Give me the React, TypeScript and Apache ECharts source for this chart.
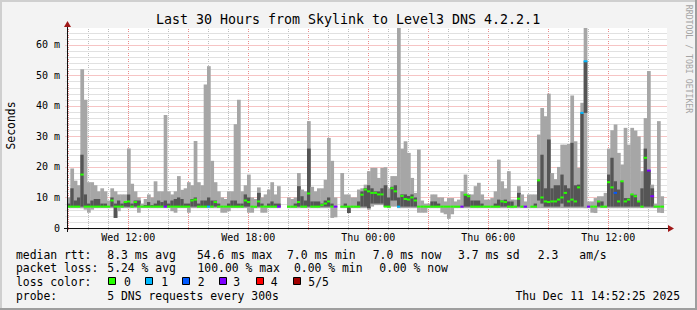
import React, { useEffect, useRef } from 'react';
import * as echarts from 'echarts';

// time axis: hours since Wed 00:00, 30 hours ending Thu 14:56
const START_HOUR = 8.935;
const STEP_HOURS = 1 / 6; // 10-minute buckets
const SPAN_HOURS = 30;

const xLabelHours = [12, 18, 24, 30, 36];
const xLabelTexts = ['Wed 12:00', 'Wed 18:00', 'Thu 00:00', 'Thu 06:00', 'Thu 12:00'];
const yLabelValues = [0, 10, 20, 30, 40, 50, 60];
const Y_MAX = 65.5;

// smoke: highest ping per bucket (ms)
const hi = [
  10, 19.5, 15.5, 14, 52, 42, 15, 15, 14, 12,
  13, 12, 9, 13, 12, 11, 11, 11, 26, 14.5,
  12, 10, 8, 9.5, 11, 10, 15.3, 12, 12, 37,
  12, 11, 12, 17, 12.5, 13, 15, 14, 28.5, 15,
  14, 47, 53, 22, 15, 12, 10, 9.5, 12, 12,
  34, 42, 12, 14, 17.5, 10, 9.5, 13.3, 10, 11,
  12.6, 15, 11, 13.7, null, null, 10, 9.5, 10, 18,
  12.6, 12, 35, 13.5, 12, 13, 13, 15.8, 29.5, 22,
  10, null, 18, 11, 11, 10, 10, 12.6, 13, 14.2,
  18.6, 19.7, 19.7, 16.4, 19.7, 19.9, 13, 17, 17, 66,
  26, 28.4, 24.6, 16.4, 11.5, 25.7, 9, 8, 8, 11,
  11, 10, 10, 8.7, 9.8, 9.8, 8.7, 9.3, 12, 17.5,
  11, 11, 13.7, 14.8, 11, 9.3, 9.3, 9.8, 12, 22.4,
  15.3, 13, 18.6, 9.3, 9.3, 13.7, 11, 8.7, 11, 11,
  11, 30.6, 39.3, 36.6, 44, 18, 16, 20, 27.3, 27.3,
  27.5, 43.4, 28.4, 19.7, 41, 66, 8.7, 8.7, 9.8, 10.4,
  10.4, 11.5, 26, 32, 33.9, 24.6, 20.8, 32.8, 27.3, 32.8,
  31.9, 30, 18.6, 36, 51.4, 14.2, 8, 35, 10.4, null,
];

// smoke: lowest ping per bucket (ms)
const lo = [
  6.5, 6.5, 6.5, 6.5, 6.5, 6, 5, 6, 6.5, 6.5,
  6.5, 6.5, 6.5, 6.5, 3.3, 5.5, 6.5, 6.5, 6.5, 6.5,
  6.5, 5, 6.5, 6.5, 6.5, 6.5, 6.5, 6.5, 6.5, 6.5,
  6.5, 5.5, 5, 6.5, 6.5, 6.5, 5, 6.5, 6.5, 6.5,
  6.5, 6.5, 6.5, 6.5, 6.5, 6.5, 5, 5, 5.5, 6.5,
  6.5, 6.5, 6.5, 6.5, 5, 5, 6.5, 6.5, 5, 5,
  6.5, 6.5, 6.5, 6.5, null, null, 6.5, 6.5, 6.5, 6.5,
  6.5, 6.5, 6.5, 6.5, 6.5, 6.5, 6.5, 6.5, 6.5, 3.3,
  3.5, null, 6.5, 6.5, 4.9, 6.5, 6.5, 6.5, 6.5, 6.5,
  6, 7, 7.5, 7.5, 7.5, 7, 6.5, 7, 7, 6.5,
  6.5, 6.5, 6.5, 6.5, 6.5, 5, 5, 5, 6.5, 6.5,
  6.5, 6.5, 5, 4.5, 3, 4.5, 6.5, 6.5, 6.5, 6.5,
  6.5, 6.5, 6.5, 6.5, 6.5, 6.5, 6.5, 6.5, 6.5, 6.5,
  6.5, 6.5, 6.5, 6.5, 6.5, 6.5, 6.5, 6.5, 6.5, 6.5,
  6.5, 6.5, 6.5, 6.5, 6.5, 6.5, 6.5, 6.5, 6.5, 6.5,
  6.5, 6.5, 6.5, 6.5, 6.5, 6.5, 6.5, 5, 4.9, 6.5,
  6.5, 6.5, 6.5, 6.5, 6.5, 6.5, 6.5, 6.5, 6.5, 6.5,
  6.5, 6.5, 6.5, 6.5, 6.5, 6.5, 6.5, 5, 4.9, null,
];

// dark smoke band top (ms)
const darkHi = [
  8, 13, 9, 10, 24, 11, 8, 9, 9.5, 9.5,
  8, 8, null, 10, 8, 9, 8, 8.5, 11, 8,
  9, 9, null, 7.5, 8.5, 7.5, 8, 9, 8.5, 9,
  8, 9, 9.5, 10, 9.5, 8, 8, 9.5, 10, 8,
  9, 9, 10, 9, 9, 8, null, null, 8, 9,
  9, 8, 8, 11, 10, null, null, 11.5, 8, null,
  8, 8.7, 8, 8, null, null, null, null, 8, 13.7,
  10.4, 9, 26, 8.7, 8.7, 8.7, 8, 9, 10, 8,
  null, null, null, 8, 7, null, null, 8.7, 12, 13,
  14, 13, 12, 12, 13, 14, 10, 13.5, 14, 10,
  11, 11, 10.5, 11, 10, null, null, null, null, 8.7,
  8.7, 8, null, null, null, null, null, null, null, 11,
  10.9, 9, 9, 9, 8, null, null, null, 8, 9.3,
  9, 9.3, 8.7, 8.7, null, 11.5, null, null, null, null,
  8, 15.8, 24, 13, 29, 13, 14, 14, 17.5, 14,
  13, 27.9, 14, 14.2, 37.7, 54.6, null, null, null, 8.7,
  8.7, null, 17.5, 23, 15.3, 12.6, 15.3, 9.8, 9.8, 11,
  10.9, 8.7, 13, 26, 18.8, 13, null, null, null, null,
];

// dark smoke band bottom (ms)
const darkLo = [
  7, 7, 7, 7, 7, 7, 7, 7, 7, 7,
  7, 7, 7, 7, 3.3, 7, 7, 7, 7, 7,
  7, 7, 7, 7, 7, 7, 7, 7, 7, 7,
  7, 7, 7, 7, 7, 7, 7, 7, 7, 7,
  7, 7, 7, 7, 7, 7, 7, 7, 7, 7,
  7, 7, 7, 7, 7, 7, 7, 7, 7, 7,
  7, 7, 7, 7, 7, 7, 7, 7, 7, 7,
  7, 7, 7, 7, 7, 7, 7, 7, 7, 7,
  7, 7, 7, 7, 4.9, 7, 7, 7, 7, 7,
  6.5, 8, 8, 8, 8, 7, 7, 9, 9, 7,
  7, 7, 7, 7, 7, 7, 7, 7, 7, 7,
  7, 7, 7, 7, 7, 7, 7, 7, 7, 7,
  7, 7, 7, 7, 7, 7, 7, 7, 7, 7,
  7, 7, 7, 7, 7, 7, 7, 7, 7, 7,
  7, 9, 8, 7, 7, 7, 7, 7, 8, 7,
  7, 7, 7, 7, 7, 37.7, 7, 7, 7, 7,
  7, 7, 7, 7, 7, 7, 7, 7, 7, 7,
  7, 7, 7, 7, 7, 7, 7, 7, 7, 7,
];

// median rtt (ms)
const median = [
  7, 7, 7, 7, 17.5, 7, 7, 7, 7, 7,
  7, 7, 7, 9, 7, 7, 7, 8.5, 8.7, 7,
  8.5, 7, 7, 7, 7, 7, 7, 7, 7, 7,
  7, 7, 7, 7, 7, 7, 7, 9, 9.3, 7,
  7, 7, 7, 7, 8.5, 7, 7, 7, 7, 7,
  7, 7, 7, 9, 8.5, 7, 7, 8.7, 7, 7,
  7, 7, 7, 7, null, null, 7, 7, 7, 8.5,
  7, 7, 11.3, 7, 7, 7, 7.5, 8, 8.7, 7,
  7, null, 7, 7, 7, 7, 7, 7, 10.9, 12.6,
  12, 11.5, 11.5, 11, 11, 7, 7, 13, 12, 7,
  10.5, 9.5, 9.3, 10, 9, 7, 7, 7, 7, 7,
  7, 7, 7, 7, 7, 7, 7, 7, 7, 10.9,
  10.4, 7, 7, 7, 7, 7, 7, 7, 7, 7,
  8.7, 8.5, 7, 7, 7, 9.6, 7, 7, null, 7,
  7, 15.6, 10, 8.7, 8.5, 8.7, 8.7, 9.3, 10, 11.5,
  8.7, 9.3, 8.7, 13.3, 37.7, 54.6, 7, 7, 7, 8.7,
  7, 7, 15, 13.3, 11.5, 8.7, 15.3, 8.7, 9.3, 11,
  10.4, 8.7, 7, 23, 18.8, 10.4, 7, 7, 7, null,
];

// lost pings out of 5
const loss = [
  0, 0, 0, 0, 0, 0, 0, 0, 0, 0,
  0, 0, 0, 0, 0, 0, 0, 0, 0, 0,
  0, 0, 0, 0, 0, 0, 0, 0, 0, 3,
  0, 0, 0, 0, 0, 0, 0, 0, 0, 0,
  0, 0, 1, 0, 0, 0, 0, 0, 0, 0,
  0, 0, 0, 0, 0, 0, 0, 0, 0, 0,
  0, 0, 0, 3, 0, 0, 0, 0, 0, 0,
  0, 0, 0, 0, 0, 0, 0, 0, 0, 0,
  3, 0, 0, 0, 0, 0, 0, 0, 0, 0,
  0, 0, 0, 0, 0, 0, 0, 0, 0, 1,
  0, 0, 0, 0, 0, 0, 0, 0, 0, 0,
  0, 0, 0, 0, 0, 0, 0, 0, 3, 0,
  0, 0, 0, 0, 0, 0, 0, 0, 0, 0,
  0, 0, 0, 0, 0, 0, 0, 3, 0, 0,
  0, 0, 0, 0, 0, 0, 0, 0, 0, 0,
  0, 0, 0, 0, 1, 1, 3, 0, 0, 0,
  0, 0, 0, 0, 2, 0, 0, 0, 0, 0,
  0, 0, 0, 0, 3, 3, 0, 0, 0, 0,
];

const lossColors = ['#26ff00', '#00b8ff', '#0059ff', '#7e00ff', '#ff0000', '#a10000'];
const lossLabels = ['0', '1', '2', '3', '4', '5/5'];

// grid lines: [0, hour] = vertical, [1, ms] = horizontal
const gridLines: number[][] = [];
for (let h = 9; h <= 38; h++) gridLines.push([0, h]);
for (let v = 2; v <= 64; v += 2) gridLines.push([1, v]);

const MONO = "'DejaVu Sans Mono', monospace";
const LEGEND_FONT = `11.4px ${MONO}`;
const LIGHT = '#a6a6a6';
const DARK = '#555555';
const MINOR = '#bdbdbd';
const MAJOR = '#ec8a8a';
const MINOR_H = '#e1e1e1';
const MAJOR_H = '#f6c4c4';

export default function App() {
  const ref = useRef<HTMLDivElement>(null);

  useEffect(() => {
    if (!ref.current) return;
    const chart = echarts.init(ref.current, undefined, { renderer: 'svg' });

    const times = hi.map((_, i) => START_HOUR + i * STEP_HOURS);

    const legendY1 = 254.5, legendY2 = 268.3, legendY3 = 281.7, legendY4 = 295.7;
    const txt = (text: string, x: number, y: number, extra: any = {}) => ({
      type: 'text',
      x,
      y,
      style: {
        text,
        fill: '#000',
        font: LEGEND_FONT,
        textAlign: 'left',
        textVerticalAlign: 'middle',
        ...extra,
      },
    });

    const boxX = [108.5, 145.5, 182.5, 219.5, 256.5, 293.5];
    const boxLabelX = [124, 161.3, 197.7, 233.3, 270.7, 308.3];

    const graphics: any[] = [
      // frame
      { type: 'rect', shape: { x: 0, y: 0, width: 697, height: 2 }, style: { fill: '#cfcfcf' } },
      { type: 'rect', shape: { x: 0, y: 0, width: 2, height: 310 }, style: { fill: '#cfcfcf' } },
      { type: 'rect', shape: { x: 0, y: 308, width: 697, height: 2 }, style: { fill: '#9e9e9e' } },
      { type: 'rect', shape: { x: 695, y: 0, width: 2, height: 310 }, style: { fill: '#9e9e9e' } },
      // title
      {
        type: 'text', x: 348, y: 19.5,
        style: { text: 'Last 30 Hours from Skylink to Level3 DNS 4.2.2.1', fill: '#000', font: `13.3px ${MONO}`, textAlign: 'center', textVerticalAlign: 'middle' },
      },
      {
        type: 'text', x: 10.5, y: 125.5, rotation: Math.PI / 2,
        style: { text: 'Seconds', fill: '#000', font: LEGEND_FONT, textAlign: 'center', textVerticalAlign: 'middle' },
      },
      {
        type: 'text', x: 688.5, y: 59, rotation: -Math.PI / 2,
        style: { text: 'RRDTOOL / TOBI OETIKER', fill: '#a4a4a4', font: `8.2px ${MONO}`, textAlign: 'center', textVerticalAlign: 'middle' },
      },
      // axes
      { type: 'line', shape: { x1: 64, y1: 228.5, x2: 670, y2: 228.5 }, style: { stroke: '#101010', lineWidth: 1 }, z: 50 },
      { type: 'line', shape: { x1: 67.5, y1: 232, x2: 67.5, y2: 24 }, style: { stroke: '#101010', lineWidth: 1 }, z: 50 },
      { type: 'polygon', shape: { points: [[668, 225], [674, 228.5], [668, 232]] }, style: { fill: '#a01818' }, z: 51 },
      { type: 'polygon', shape: { points: [[64, 27], [67.5, 21], [71, 27]] }, style: { fill: '#a01818' }, z: 51 },
      // legend rows
      txt('median rtt:', 16, legendY1),
      txt('8.3 ms avg', 107.3, legendY1),
      txt('54.6 ms max', 197, legendY1),
      txt('7.0 ms min', 287, legendY1),
      txt('7.0 ms now', 372.7, legendY1),
      txt('3.7 ms sd', 458, legendY1),
      txt('2.3', 537.7, legendY1),
      txt('am/s', 579.3, legendY1),
      txt('packet loss:', 16, legendY2),
      txt('5.24 % avg', 107.3, legendY2),
      txt('100.00 % max', 197.5, legendY2),
      txt('0.00 % min', 294, legendY2),
      txt('0.00 % now', 379.3, legendY2),
      txt('loss color:', 16, legendY3),
      txt('probe:', 16, legendY4),
      txt('5 DNS requests every 300s', 107.3, legendY4),
      txt('Thu Dec 11 14:52:25 2025', 680, legendY4, { textAlign: 'right' }),
    ];
    lossColors.forEach((c, k) => {
      graphics.push({
        type: 'rect',
        shape: { x: boxX[k], y: 277.5, width: 7, height: 7 },
        style: { fill: c, stroke: '#000', lineWidth: 1 },
      });
      graphics.push(txt(lossLabels[k], boxLabelX[k], legendY3));
    });

    const option: any = {
      animation: false,
      backgroundColor: '#f3f3f3',
      grid: {
        left: 67, top: 28, width: 600, height: 200,
        show: true, backgroundColor: '#ffffff', borderWidth: 0,
      },
      xAxis: {
        type: 'value',
        min: START_HOUR,
        max: START_HOUR + SPAN_HOURS,
        axisLine: { show: false },
        axisTick: { show: false },
        splitLine: { show: false },
        axisLabel: {
          customValues: xLabelHours,
          formatter: (v: number) => {
            const k = xLabelHours.findIndex((h) => Math.abs(h - v) < 1e-6);
            return k >= 0 ? xLabelTexts[k] : '';
          },
          fontFamily: MONO,
          fontSize: 10,
          color: '#000',
          margin: 4,
        },
      },
      yAxis: {
        type: 'value',
        min: 0,
        max: Y_MAX,
        axisLine: { show: false },
        axisTick: { show: false },
        splitLine: { show: false },
        axisLabel: {
          customValues: yLabelValues,
          formatter: (v: number) => (v === 0 ? '0' : `${v} m`),
          fontFamily: MONO,
          fontSize: 10,
          color: '#000',
          margin: 7,
        },
      },
      graphic: graphics,
      series: [
        {
          type: 'custom',
          name: 'grid',
          z: 1,
          silent: true,
          data: gridLines.map((g) => [START_HOUR + 1, 1, g[0], g[1]]),
          encode: { x: 0, y: 1 },
          renderItem: (params: any, api: any) => {
            const g = gridLines[params.dataIndex];
            if (g[0] === 0) {
              const h = g[1];
              const p0 = api.coord([h, 0]);
              const p1 = api.coord([h, Y_MAX]);
              const x = Math.round(p0[0]) + 0.5;
              return {
                type: 'line',
                shape: { x1: x, y1: p0[1] + 2, x2: x, y2: p1[1] },
                style: { stroke: h % 3 === 0 ? MAJOR : MINOR, lineWidth: 1, lineDash: [1, 1] },
              };
            }
            const v = g[1];
            const p0 = api.coord([START_HOUR, v]);
            const p1 = api.coord([START_HOUR + SPAN_HOURS, v]);
            const y = Math.round(p0[1]);
            return {
              type: 'rect',
              shape: { x: p0[0] - 2, y, width: p1[0] - p0[0] + 2, height: 1 },
              style: { fill: v % 10 === 0 ? MAJOR_H : MINOR_H },
            };
          },
        },
        {
          type: 'custom',
          name: 'smoke',
          z: 3,
          clip: true,
          silent: true,
          data: times.map((t, i) => [t, hi[i] == null ? 0 : hi[i]]),
          encode: { x: 0, y: 1 },
          renderItem: (params: any, api: any) => {
            const i = params.dataIndex;
            const t = api.value(0);
            const x0 = api.coord([t, 0])[0];
            const x1 = api.coord([t + STEP_HOURS, 0])[0];
            const w = x1 - x0 + 0.4;
            const children: any[] = [];
            if (hi[i] != null && lo[i] != null) {
              const yt = api.coord([t, hi[i]])[1];
              const yb = api.coord([t, lo[i]])[1];
              children.push({ type: 'rect', shape: { x: x0, y: yt, width: w, height: yb - yt }, style: { fill: LIGHT } });
            }
            if (darkHi[i] != null && darkLo[i] != null) {
              const yt = api.coord([t, darkHi[i]])[1];
              const yb = api.coord([t, darkLo[i]])[1];
              children.push({ type: 'rect', shape: { x: x0, y: yt, width: w, height: yb - yt }, style: { fill: DARK } });
            }
            if (median[i] != null) {
              const ym = api.coord([t, median[i]])[1];
              children.push({
                type: 'rect',
                shape: { x: x0, y: ym - 1, width: w, height: 2 },
                style: { fill: lossColors[loss[i]] },
              });
            }
            return { type: 'group', children };
          },
        },
      ],
    };

    chart.setOption(option);
    return () => chart.dispose();
  }, []);

  return (
    <div
      ref={ref}
      style={{ position: 'fixed', left: 0, top: 0, width: 697, height: 310 }}
    />
  );
}
